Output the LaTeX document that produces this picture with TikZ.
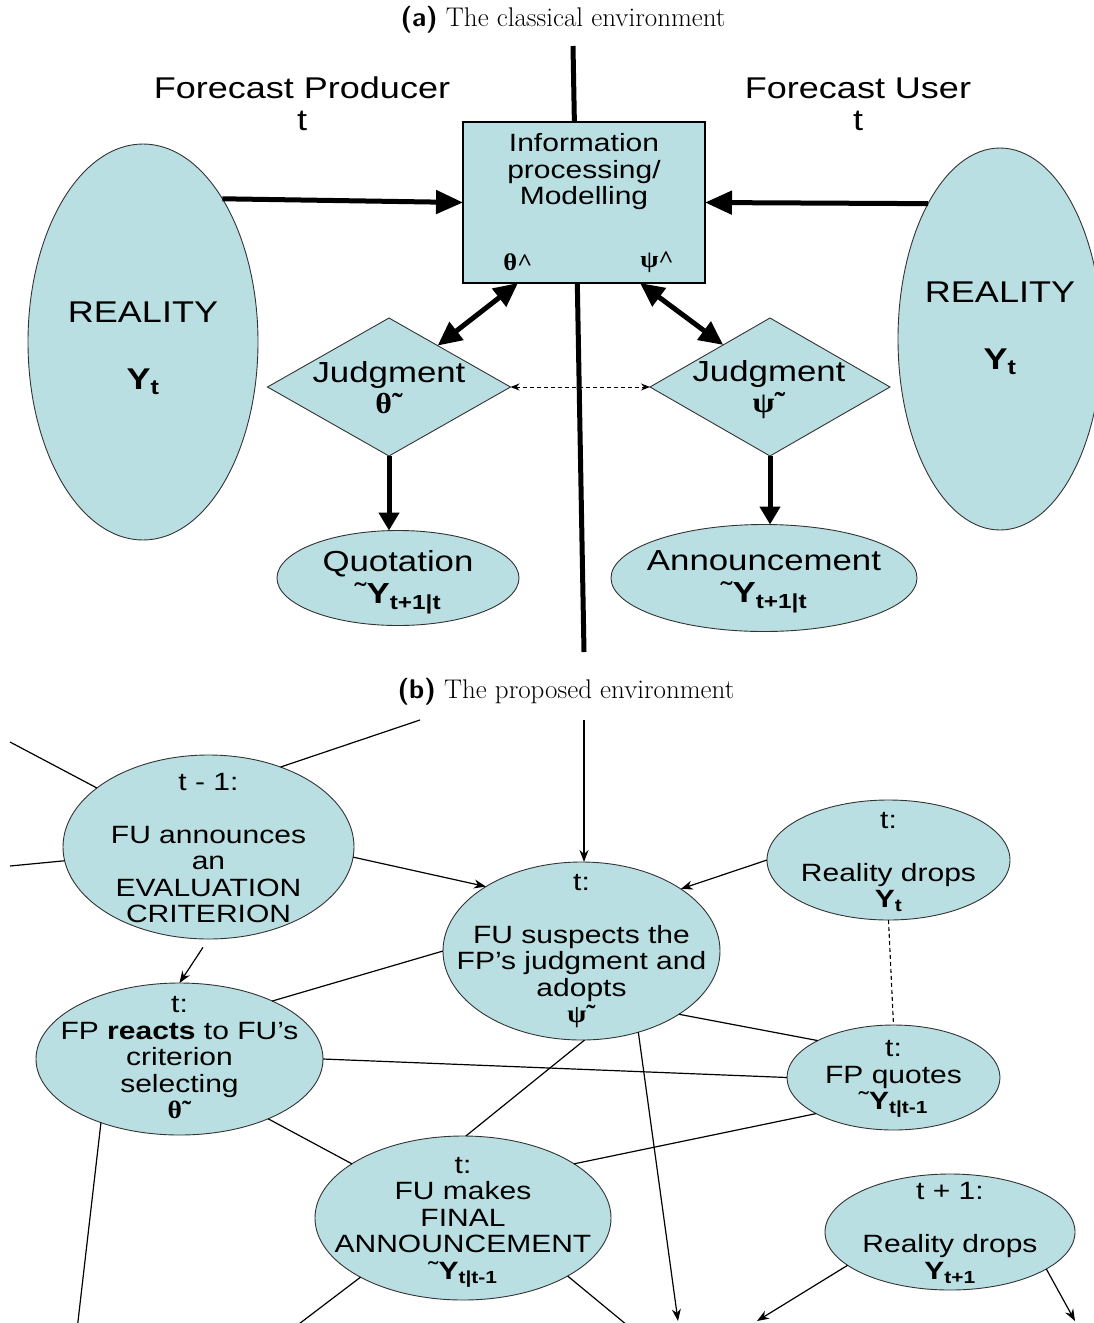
\documentclass[tikz,border=0pt]{standalone}
\usepackage{fontspec}
\newfontfamily\ar[FakeStretch=1.2]{Liberation Sans}
\newfontfamily\grk[FakeStretch=1.1]{Liberation Serif}
\usetikzlibrary{shapes.geometric,arrows.meta,calc}
\definecolor{nodefill}{HTML}{B9DFE2}
\definecolor{nodeedge}{HTML}{333333}
\newcommand{\bY}[1]{\textbf{Y}\textsubscript{\textbf{#1}}}
\begin{document}
\begin{tikzpicture}[x=1pt,y=-1pt,
  every node/.style={inner sep=0pt,outer sep=0pt},
  ellbox/.style={ellipse,draw=nodeedge,line width=0.9pt,fill=nodefill},
  diambox/.style={diamond,draw=nodeedge,line width=0.9pt,fill=nodefill},
  rectbox/.style={rectangle,draw=black,line width=1.3pt,fill=nodefill},
  txta/.style={align=center,font=\ar\fontsize{30}{32}\selectfont},
  txtbox/.style={align=center,font=\ar\fontsize{25}{26.5}\selectfont},
  txtb/.style={align=center,font=\ar\fontsize{25}{26.5}\selectfont},
  capt/.style={font=\fontsize{27}{30}\selectfont},
  thick line/.style={line width=5pt},
  bigtip/.style={-{Triangle[length=27pt,width=23pt]}},
  bigboth/.style={{Triangle[length=24pt,width=22pt]}-{Triangle[length=24pt,width=22pt]}},
  thin line/.style={line width=1.2pt},
  smalltip/.style={-{Stealth[length=12pt,width=9pt]}},
  dashline/.style={line width=1pt,dash pattern=on 4pt off 3pt},
]
\useasboundingbox (0,0) rectangle (1094,1323);
\clip (0,0) rectangle (1094,1323);

% ---------------- (a) ----------------
\node[capt] (capa) at (563,20) {{\sffamily\bfseries (a)} The classical environment};

\coordinate (divtop) at (573,46);
\coordinate (divbot) at (584,652);
\draw[thick line] (divtop) -- (divbot);

\node[txta] (fp) at (302,104) {Forecast Producer\\t};
\node[txta] (fu) at (858,104) {Forecast User\\t};

\node[rectbox,minimum width=242,minimum height=161] (box) at (584,202.5) {};
\node[txtbox] (boxt) at (584,172) {Information\\processing/\\Modelling};
\node[font=\grk\bfseries\fontsize{24}{26}\selectfont] (thh) at (518,262) {θ\textasciicircum};
\node[font=\grk\bfseries\fontsize{24}{26}\selectfont] (psh) at (657,262) {ψ\textasciicircum};

\node[ellbox,minimum width=230,minimum height=396] (Lreal) at (143,342) {};
\node[align=center,font=\ar\fontsize{30}{67}\selectfont] (Lrealt) at (143,348) {REALITY\\\bY{t}};
\node[ellbox,minimum width=204,minimum height=382] (Rreal) at (1000,339) {};
\node[align=center,font=\ar\fontsize{30}{67}\selectfont] (Rrealt) at (1000,328) {REALITY\\\bY{t}};

\node[diambox,minimum width=243,minimum height=138] (dL) at (389,387) {};
\node[align=center,font=\ar\fontsize{29}{31}\selectfont] (dLt) at (389,388) {Judgment\\{\grk\bfseries θ˜}};
\node[diambox,minimum width=240,minimum height=138] (dR) at (770,387) {};
\node[align=center,font=\ar\fontsize{29}{31}\selectfont] (dRt) at (769,390) {Judgment\\{\grk\bfseries ψ˜}};

\node[ellbox,minimum width=242,minimum height=95] (quot) at (398,578) {};
\node[align=center,font=\ar\fontsize{29}{32}\selectfont] (quott) at (398,582) {Quotation\\˜\bY{t+1|t}};
\node[ellbox,minimum width=306,minimum height=107] (ann) at (764,578) {};
\node[align=center,font=\ar\fontsize{29}{32}\selectfont] (annt) at (764,582) {Announcement\\˜\bY{t+1|t}};

\draw[thick line,bigtip] (Lreal.61) -- (box.west);
\draw[thick line,bigtip] (Rreal.118.6) -- (box.east);
\draw[thick line,bigboth] ($(box.south west)+(55,0)$) -- ($(dL.north)!0.4!(dL.east)$);
\draw[thick line,bigboth] ($(box.south east)+(-65,0)$) -- ($(dR.north)!0.39!(dR.west)$);
\draw[dashline,{Stealth[length=9pt,width=7pt]}-{Stealth[length=9pt,width=7pt]}] (dL.east) -- (dR.west);
\draw[thick line,-{Triangle[length=18pt,width=20pt]}] (dL.south) -- (dL.south |- quot.north);
\draw[thick line,-{Triangle[length=18pt,width=20pt]}] (dR.south) -- (dR.south |- ann.north);

% ---------------- (b) ----------------
\node[capt] (capb) at (566,692) {{\sffamily\bfseries (b)} The proposed environment};

\node[ellbox,minimum width=291,minimum height=184] (ann1) at (208.5,847) {};
\node[txtb] (ann1t) at (208.5,848) {t - 1:\\[26.5pt]FU announces\\an\\EVALUATION\\CRITERION};

\node[ellbox,minimum width=277,minimum height=178] (susp) at (581.5,951) {};
\node[txtb] (suspt) at (581.5,951) {t:\\[26.5pt]FU suspects the\\FP’s judgment and\\adopts\\{\grk\bfseries ψ˜}};

\node[ellbox,minimum width=243,minimum height=120] (rd1) at (888.5,860) {};
\node[txtb] (rd1t) at (888.5,862) {t:\\[26.5pt]Reality drops\\\bY{t}};

\node[ellbox,minimum width=287,minimum height=152] (react) at (179.5,1059) {};
\node[txtb] (reactt) at (179.5,1058) {t:\\FP \textbf{reacts} to FU’s\\criterion\\selecting\\{\grk\bfseries θ˜}};

\node[ellbox,minimum width=213,minimum height=105] (quotes) at (893.5,1077.5) {};
\node[txtb] (quotest) at (893.5,1079) {t:\\FP quotes\\˜\bY{t|t-1}};

\node[ellbox,minimum width=296,minimum height=164] (final) at (463,1218) {};
\node[txtb] (finalt) at (463,1222) {t:\\FU makes\\FINAL\\ANNOUNCEMENT\\˜\bY{t|t-1}};

\node[ellbox,minimum width=250,minimum height=116] (rd2) at (950,1232) {};
\node[txtb] (rd2t) at (950,1233) {t + 1:\\[26.5pt]Reality drops\\\bY{t+1}};

\coordinate (f1) at (10,742);
\coordinate (f2) at (10,866);
\coordinate (f3) at (420,720);
\coordinate (f4) at (584,720);
\coordinate (e1) at (678,1321);
\coordinate (e2) at (77,1330);
\coordinate (e3) at (291,1330);
\coordinate (e4) at (633,1330);
\coordinate (e5) at (757,1321);
\coordinate (e6) at (1075,1321);

\draw[thin line] (f1) -- (ann1);
\draw[thin line] (f2) -- (ann1);
\draw[thin line] (ann1.48) -- (f3);
\draw[thin line,smalltip] (ann1.-4) -- (susp.146);
\draw[thin line,smalltip,shorten <=10pt] (ann1.south) -- (react.north);
\draw[thin line,smalltip] (f4) -- (f4 |- susp.north);
\draw[thin line,smalltip] (rd1.west) -- (susp.32);
\draw[dashline,line width=1.1pt] (rd1.south) -- (quotes.north);
\draw[thin line] (susp.west) -- (react.32);
\draw[thin line] (react.east) -- (quotes.west);
\draw[thin line] (susp.-33) -- (quotes.154);
\draw[thin line] (susp.-88) -- (final.88);
\draw[thin line] (react.-34) -- (final.154);
\draw[thin line] (quotes.205.5) -- (final.26.4);
\draw[thin line,smalltip] (susp.-55.8) -- (e1);
\draw[thin line] (react.219.7) -- (e2);
\draw[thin line] (final.210.6) -- (e3);
\draw[thin line] (final.-29.7) -- (e4);
\draw[thin line,smalltip] (rd2.198) -- (e5);
\draw[thin line,smalltip] (rd2.-21.8) -- (e6);
\end{tikzpicture}
\end{document}
